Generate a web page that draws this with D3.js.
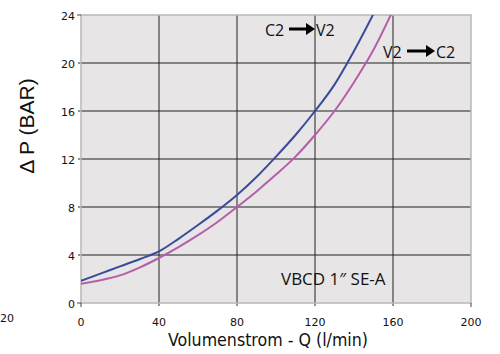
<!DOCTYPE html>
<html><head><meta charset="utf-8">
<script src="https://cdn.jsdelivr.net/npm/d3@7"></script>
<style>body{margin:0;background:#fff}svg{display:block}</style>
</head><body>
<svg id="c" width="500" height="354"></svg>
<script>
const qValues = [0,10,20,30,40,50,60,70,80,90,100,110,120,130,140,150,160];
const c2v2 = [1.85,2.45,3.05,3.65,4.3,5.35,6.5,7.7,9.0,10.5,12.2,14.0,16.0,18.2,21.0,24.1,null];
const v2c2 = [1.6,1.9,2.3,2.95,3.75,4.65,5.65,6.75,8.0,9.3,10.7,12.2,14.0,16.0,18.4,21.1,24.4];
const xTicks = [0,40,80,120,160,200];
const yTicks = [0,4,8,12,16,20,24];

const svg = d3.select("#c");
const L=81,R=471,T=15,B=303;
const x = d3.scaleLinear().domain([0,200]).range([L,R]);
const y = d3.scaleLinear().domain([0,24]).range([B,T]);

svg.append("rect").attr("x",L).attr("y",T).attr("width",R-L).attr("height",B-T).attr("fill","#e7e5e6");
svg.append("defs").append("clipPath").attr("id","clp").append("rect").attr("x",L).attr("y",T).attr("width",R-L).attr("height",B-T);

// grid
const g = svg.append("g");
g.selectAll(".vx").data(xTicks.filter(d=>d>0&&d<200)).enter().append("line")
 .attr("x1",d=>x(d)).attr("x2",d=>x(d)).attr("y1",T).attr("y2",B+3).attr("stroke","#222").attr("stroke-width",1);
g.selectAll(".hy").data(yTicks.filter(d=>d>0&&d<24)).enter().append("line")
 .attr("x1",L-3).attr("x2",R).attr("y1",d=>y(d)).attr("y2",d=>y(d)).attr("stroke","#222").attr("stroke-width",1);
// frame
svg.append("rect").attr("x",L).attr("y",T).attr("width",R-L).attr("height",B-T).attr("fill","none").attr("stroke","#b8b8b8").attr("stroke-width",1.5);
// end ticks
[0,200].forEach(d=>svg.append("line").attr("x1",x(d)).attr("x2",x(d)).attr("y1",B).attr("y2",B+4).attr("stroke","#444"));
[0,24].forEach(d=>svg.append("line").attr("x1",L-4).attr("x2",L).attr("y1",y(d)).attr("y2",y(d)).attr("stroke","#444"));

// tick labels
const tf = "'DejaVu Sans', sans-serif";
svg.selectAll(".xl").data(xTicks).enter().append("text")
 .attr("x",d=>x(d)).attr("y",326).attr("text-anchor","middle").attr("font-family",tf).attr("font-size",11).attr("fill","#111").text(d=>d);
svg.selectAll(".yl").data(yTicks).enter().append("text")
 .attr("x",L-6).attr("y",d=>y(d)+4.5).attr("text-anchor","end").attr("font-family",tf).attr("font-size",11).attr("fill","#111").text(d=>d);

// stray label
svg.append("text").attr("x",0).attr("y",322).attr("font-family",tf).attr("font-size",11).attr("fill","#111").text("20");

// lines
const line = d3.line().defined(d=>d[1]!=null).x(d=>x(d[0])).y(d=>y(d[1])).curve(d3.curveMonotoneX);
const cg = svg.append("g").attr("clip-path","url(#clp)");
cg.append("path").datum(qValues.map((q,i)=>[q,v2c2[i]])).attr("d",line).attr("fill","none").attr("stroke","#b45fa9").attr("stroke-width",2);
cg.append("path").datum(qValues.map((q,i)=>[q,c2v2[i]])).attr("d",line).attr("fill","none").attr("stroke","#3b4a9a").attr("stroke-width",2);

// titles
svg.append("text").attr("x",168).attr("y",346).attr("font-family","'DejaVu Sans Condensed','DejaVu Sans', sans-serif").attr("font-stretch","condensed")
 .attr("font-size",18).attr("textLength",200).attr("lengthAdjust","spacingAndGlyphs").attr("fill","#111").text("Volumenstrom - Q (l/min)");
svg.append("text").attr("transform","translate(34,126) rotate(-90)").attr("text-anchor","middle").attr("font-family","'Liberation Sans', sans-serif").attr("font-size",21).attr("fill","#111").text("Δ P (BAR)");

// annotations
function arrow(x1,x2,yy){
  svg.append("line").attr("x1",x1).attr("x2",x2-8).attr("y1",yy).attr("y2",yy).attr("stroke","#000").attr("stroke-width",3);
  svg.append("path").attr("d",`M${x2-9},${yy-6}L${x2},${yy}L${x2-9},${yy+6}Z`).attr("fill","#000");
}
const af = "'Open Sans', sans-serif";
svg.append("text").attr("x",265).attr("y",36).attr("font-family",af).attr("font-size",16).attr("fill","#111").text("C2");
arrow(289,315,29);
svg.append("text").attr("x",316).attr("y",36).attr("font-family",af).attr("font-size",16).attr("fill","#111").text("V2");
svg.append("text").attr("x",383).attr("y",58).attr("font-family",af).attr("font-size",16).attr("fill","#111").text("V2");
arrow(407,435,51);
svg.append("text").attr("x",436).attr("y",58).attr("font-family",af).attr("font-size",16).attr("fill","#111").text("C2");
svg.append("text").attr("x",281).attr("y",285).attr("font-family",af).attr("font-size",17).attr("fill","#111").text("VBCD 1″ SE-A");
</script>
</body></html>
